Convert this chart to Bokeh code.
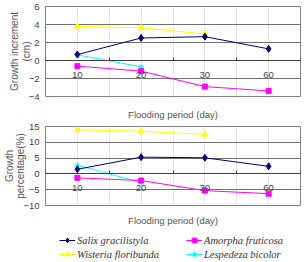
from bokeh.plotting import figure
from bokeh.models import Range1d, FixedTicker, LinearAxis, Legend, LegendItem
from bokeh.layouts import column
from bokeh.embed import file_html
from bokeh.resources import INLINE

# Flooding periods (days) shown as categories along x
periods = ["10", "20", "30", "60"]
species = ["Salix gracilistyla", "Wisteria floribunda", "Amorpha fruticosa", "Lespedeza bicolor"]

# Growth increment (cm)
inc_salix = [0.66, 2.5, 2.65, 1.29]
inc_wisteria = [3.79, 3.64, 2.94]
inc_amorpha = [-0.63, -1.18, -2.9, -3.38]
inc_lespedeza = [0.63, -0.7]

# Growth percentage (%)
pct_salix = [1.46, 5.3, 5.1, 2.4]
pct_wisteria = [13.96, 13.5, 12.5]
pct_amorpha = [-1.25, -2.1, -5.3, -6.25]
pct_lespedeza = [2.8, -2.8]

inc_ticks = [-4, -2, 0, 2, 4, 6]
pct_ticks = [-10, -5, 0, 5, 10, 15]

styles = {
    "Salix gracilistyla": dict(color="#000080", marker="diamond", size=7),
    "Wisteria floribunda": dict(color="#FFFF00", marker="triangle", size=6),
    "Amorpha fruticosa": dict(color="#FF00FF", marker="square", size=5),
    "Lespedeza bicolor": dict(color="#00FFFF", marker="asterisk", size=6),
}

FONT = "Liberation Sans"
TEXT = "#444444"
LEFT, RIGHT = 44, 5


def add_series(p, name, vals, visible=True):
    st = styles[name]
    xs = list(range(1, len(vals) + 1))
    ln = p.line(xs, vals, line_color=st["color"], line_width=1, visible=visible)
    mk = p.scatter(xs, vals, marker=st["marker"], size=st["size"],
                   fill_color=st["color"], line_color=st["color"], visible=visible)
    return [ln, mk]


def make_panel(ylabel, yticks, series, height, top, title_gap):
    n = len(periods)
    p = figure(width=305, height=height, output_backend="svg", toolbar_location=None,
               x_axis_location=None,
               x_range=Range1d(0.5, n + 0.5), y_range=Range1d(yticks[0], yticks[-1]),
               min_border_left=LEFT, min_border_right=RIGHT,
               min_border_top=top, min_border_bottom=0)
    p.outline_line_color = "#808080"

    ya = p.yaxis[0]
    ya.ticker = FixedTicker(ticks=yticks)
    ya.axis_line_color = None
    ya.major_tick_line_color = None
    ya.minor_tick_line_color = None
    ya.major_tick_out = 0
    ya.minor_tick_out = 0
    ya.major_label_standoff = 6
    ya.major_label_text_font = FONT
    ya.major_label_text_font_size = "9.5px"
    ya.major_label_text_color = TEXT
    ya.axis_label = ylabel
    ya.axis_label_standoff = -6
    ya.axis_label_text_font = FONT
    ya.axis_label_text_font_size = "10px"
    ya.axis_label_text_line_height = 1.05
    ya.axis_label_text_font_style = "normal"
    ya.axis_label_text_color = "#555555"
    p.ygrid.grid_line_color = "#707070"
    p.ygrid.grid_line_width = 1

    # category axis drawn along y = 0, ticks between categories
    centers = list(range(1, n + 1))
    bounds = [i + 0.5 for i in range(n + 1)]
    xa = LinearAxis(fixed_location=0,
                    ticker=FixedTicker(ticks=centers, minor_ticks=bounds),
                    major_label_overrides={c: lbl for c, lbl in zip(centers, periods)})
    xa.axis_line_color = "#404040"
    xa.major_tick_line_color = None
    xa.minor_tick_line_color = "#404040"
    xa.minor_tick_in = 3
    xa.minor_tick_out = 0
    xa.major_tick_out = 0
    xa.major_tick_in = 0
    xa.major_label_standoff = 11
    xa.major_label_text_font = FONT
    xa.major_label_text_font_size = "9.5px"
    xa.major_label_text_color = TEXT
    p.add_layout(xa, "below")

    ta = LinearAxis(ticker=FixedTicker(ticks=[]), axis_label="Flooding period (day)")
    ta.axis_line_color = None
    ta.major_tick_line_color = None
    ta.minor_tick_line_color = None
    ta.major_tick_out = 0
    ta.minor_tick_out = 0
    ta.major_label_standoff = 0
    ta.major_label_text_font_size = "0px"
    ta.axis_label_text_font = FONT
    ta.axis_label_text_font_size = "9.5px"
    ta.axis_label_text_font_style = "normal"
    ta.axis_label_text_color = "#555555"
    ta.axis_label_standoff = title_gap
    p.add_layout(ta, "below")

    for name, vals in series:
        add_series(p, name, vals)
    return p


p1 = make_panel("Growth increment\n(cm)", inc_ticks,
                [("Wisteria floribunda", inc_wisteria),
                 ("Lespedeza bicolor", inc_lespedeza),
                 ("Amorpha fruticosa", inc_amorpha),
                 ("Salix gracilistyla", inc_salix)],
                height=122, top=6, title_gap=12)

p2 = make_panel("Growth\npercentage(%)", pct_ticks,
                [("Wisteria floribunda", pct_wisteria),
                 ("Lespedeza bicolor", pct_lespedeza),
                 ("Amorpha fruticosa", pct_amorpha),
                 ("Salix gracilistyla", pct_salix)],
                height=106, top=4, title_gap=9)

# Legend strip: series keys in two columns
pct_series = {"Salix gracilistyla": pct_salix, "Wisteria floribunda": pct_wisteria,
              "Amorpha fruticosa": pct_amorpha, "Lespedeza bicolor": pct_lespedeza}
p3 = figure(width=305, height=34, output_backend="svg", toolbar_location=None,
            x_axis_location=None, y_axis_location=None,
            x_range=Range1d(0, 1), y_range=Range1d(0, 1),
            min_border_left=LEFT, min_border_right=RIGHT, min_border_top=0, min_border_bottom=0)
p3.outline_line_color = None
p3.xgrid.visible = False
p3.ygrid.visible = False
items = [LegendItem(label=s, renderers=add_series(p3, s, pct_series[s], visible=False))
         for s in species]

legend = Legend(items=items, location=(14, 2), ncols=2,
                label_text_font="Liberation Serif", label_text_font_style="italic",
                label_text_font_size="10.5px", label_text_color="#333333",
                glyph_width=16, glyph_height=12, label_height=12, label_width=107,
                label_standoff=2, spacing=2, padding=0, margin=0,
                border_line_color=None, background_fill_alpha=0)
p3.add_layout(legend, "center")

layout = column(p1, p2, p3, spacing=0)

with open("out.html", "w") as f:
    f.write(file_html(layout, INLINE))
